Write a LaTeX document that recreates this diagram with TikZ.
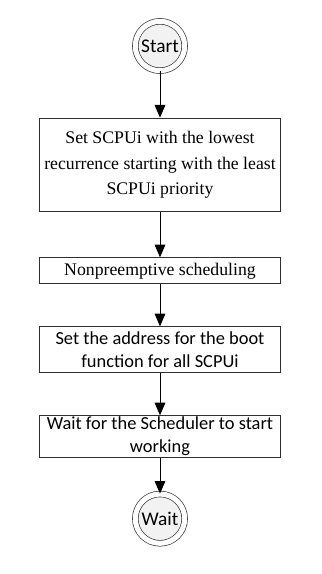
\documentclass[tikz,border=0pt]{standalone}
\usepackage{fontspec}
\setmainfont{Liberation Serif}
\newfontfamily\calibri{Carlito}
\usepackage{tikz}
\usetikzlibrary{positioning,arrows.meta,shadows}
\definecolor{boxline}{HTML}{303030}
\definecolor{circfill}{HTML}{F2F2F2}

\begin{document}
\begin{tikzpicture}[
    stepbox/.style={draw=boxline, line width=0.75pt, minimum width=180pt, align=center, inner sep=0pt, font=\fontsize{13.3}{19}\selectfont},
    endcircle/.style={circle, draw=boxline, line width=0.5pt, double=white, double distance=3.8pt, fill=circfill, minimum size=37pt, inner sep=0pt, font=\calibri\fontsize{14.5}{16}\selectfont, drop shadow={opacity=0.25, shadow xshift=1.6pt, shadow yshift=-1.6pt}},
    flow/.style={-{Triangle[width=8pt,length=9.5pt]}, line width=0.7pt, black}
]
    % Start
    \node[endcircle] (start) at (0, 0) {Start};

    % steps
    \node[stepbox, minimum height=70pt, below=35pt of start] (lowest)
        {Set SCPUi with the lowest\\recurrence starting with the least\\SCPUi priority};
    \node[stepbox, minimum height=19.5pt, below=34pt of lowest] (nonpre) {Nonpreemptive scheduling};
    \node[stepbox, minimum height=34pt, below=31.5pt of nonpre, font=\calibri\fontsize{13.8}{17.5}\selectfont] (boot)
        {Set the address for the boot\\function for all SCPUi};
    \node[stepbox, minimum height=31pt, below=32pt of boot, font=\calibri\fontsize{13.8}{17.5}\selectfont] (sched)
        {Wait for the Scheduler to start\\working};

    % Wait
    \node[endcircle, below=27pt of sched] (wait) {Wait};

    % arrows
    \draw[flow] (start) -- (lowest);
    \draw[flow] (lowest) -- (nonpre);
    \draw[flow] (nonpre) -- (boot);
    \draw[flow] (boot) -- (sched);
    \draw[flow] (sched) -- (wait);

    \useasboundingbox ([xshift=-120pt, yshift=34.5pt]start.center) rectangle ([xshift=120.75pt, yshift=-396pt]start.center);
\end{tikzpicture}
\end{document}
